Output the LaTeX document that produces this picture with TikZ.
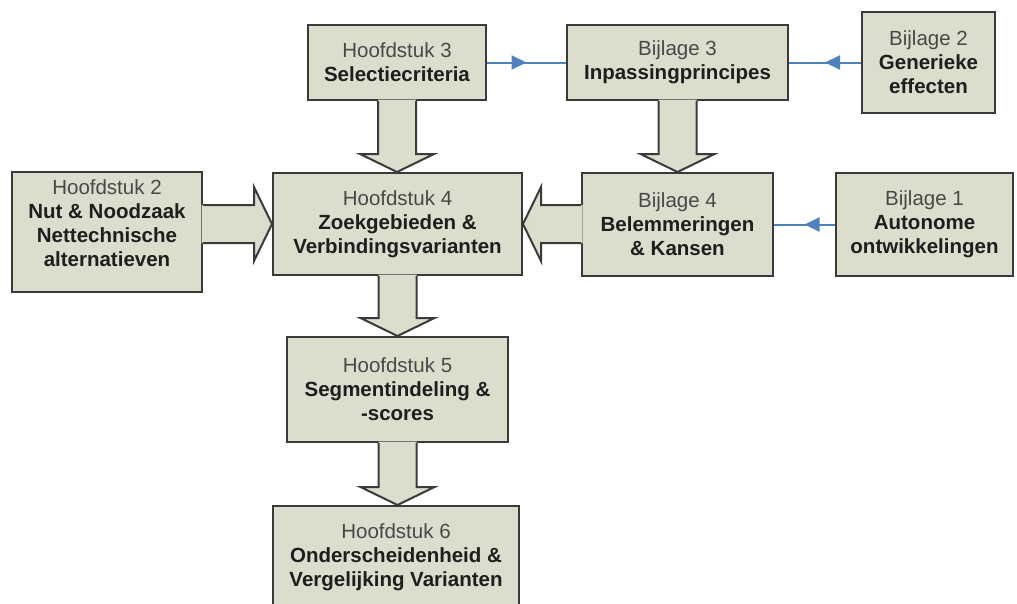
\documentclass[tikz,border=0pt]{standalone}
\usepackage{fontspec}
\setmainfont{Liberation Sans}
\usepackage{xcolor}
\usetikzlibrary{calc,arrows.meta,decorations.markings}

\definecolor{vakgrijs}{RGB}{221,221,205}
\definecolor{randgrijs}{RGB}{58,58,58}
\definecolor{kopgrijs}{RGB}{72,72,72}
\definecolor{tekst}{RGB}{30,30,30}
\definecolor{blauw}{RGB}{79,129,189}

\newcommand{\kop}[1]{\textcolor{kopgrijs}{#1}}

% dikke pijl van onderkant #1 naar bovenkant #2
\newcommand{\dikpijlomlaag}[2]{%
  \fill[vakgrijs] let \p1=(#1.south), \p2=(#2.north) in
    ({\x1-19pt},{\y1+1.5pt}) -- ({\x1-19pt},{\y2+18pt}) -- ({\x1-37pt},{\y2+18pt})
    -- (\x1,\y2) -- ({\x1+37pt},{\y2+18pt}) -- ({\x1+19pt},{\y2+18pt})
    -- ({\x1+19pt},{\y1+1.5pt}) -- cycle;
  \draw[randgrijs,line width=2pt] let \p1=(#1.south), \p2=(#2.north) in
    ({\x1-19pt},\y1) -- ({\x1-19pt},{\y2+18pt}) -- ({\x1-37pt},{\y2+18pt})
    -- (\x1,\y2) -- ({\x1+37pt},{\y2+18pt}) -- ({\x1+19pt},{\y2+18pt})
    -- ({\x1+19pt},\y1);
}
% dikke pijl opzij, #3 = 1 (naar rechts) of -1 (naar links)
\newcommand{\dikpijlopzij}[3]{%
  \fill[vakgrijs] let \p1=(#1), \p2=(#2) in
    ({\x1-(#3)*1.5pt},{\y2+19pt}) -- ({\x2-(#3)*18pt},{\y2+19pt}) -- ({\x2-(#3)*18pt},{\y2+37pt})
    -- (\x2,\y2) -- ({\x2-(#3)*18pt},{\y2-37pt}) -- ({\x2-(#3)*18pt},{\y2-19pt})
    -- ({\x1-(#3)*1.5pt},{\y2-19pt}) -- cycle;
  \draw[randgrijs,line width=2pt] let \p1=(#1), \p2=(#2) in
    (\x1,{\y2+19pt}) -- ({\x2-(#3)*18pt},{\y2+19pt}) -- ({\x2-(#3)*18pt},{\y2+37pt})
    -- (\x2,\y2) -- ({\x2-(#3)*18pt},{\y2-37pt}) -- ({\x2-(#3)*18pt},{\y2-19pt})
    -- (\x1,{\y2-19pt});
}

\begin{document}
\begin{tikzpicture}[x=1pt,y=-1pt,
    vak/.style={draw=randgrijs,line width=2pt,fill=vakgrijs,text=tekst,align=center,
      font=\fontsize{20.5}{24}\selectfont,inner sep=0pt},
    lijn/.style={draw=blauw,line width=2pt,postaction={decorate},
      decoration={markings,mark=at position 0.5 with {\arrow{Triangle[length=15pt,width=14pt]}}}}]
\useasboundingbox (0,0) rectangle (1017,603);
\path
    (397,62.5) node [vak,minimum width=178pt,minimum height=75pt] (h3)
        {\kop{Hoofdstuk 3}\\\textbf{Selectiecriteria}}
    (677.5,62.5) node [vak,minimum width=221pt,minimum height=75pt] (b3)
        {\kop{Bijlage 3}\\\textbf{Inpassingprincipes}}
    (928.5,62.5) node [vak,minimum width=133pt,minimum height=101pt] (b2)
        {\kop{Bijlage 2}\\\textbf{Generieke}\\\textbf{effecten}}
    (107,232) node [vak,minimum width=190pt,minimum height=120pt,text depth=17pt] (h2)
        {\kop{Hoofdstuk 2}\\\textbf{Nut \& Noodzaak}\\\textbf{Nettechnische}\\\textbf{alternatieven}}
    (397.5,224) node [vak,minimum width=249pt,minimum height=102pt] (h4)
        {\kop{Hoofdstuk 4}\\\textbf{Zoekgebieden \&}\\\textbf{Verbindingsvarianten}}
    (677.5,224.5) node [vak,minimum width=191pt,minimum height=103pt] (b4)
        {\kop{Bijlage 4}\\\textbf{Belemmeringen}\\\textbf{\& Kansen}}
    (924.5,224.5) node [vak,minimum width=177pt,minimum height=103pt] (b1)
        {\kop{Bijlage 1}\\\textbf{Autonome}\\\textbf{ontwikkelingen}}
    (397.5,389.5) node [vak,minimum width=221pt,minimum height=105pt] (h5)
        {\kop{Hoofdstuk 5}\\\textbf{Segmentindeling \&}\\\textbf{-scores}}
    (396,557) node [vak,minimum width=246pt,minimum height=102pt] (h6)
        {\kop{Hoofdstuk 6}\\\textbf{Onderscheidenheid \&}\\\textbf{Vergelijking Varianten}};
% dunne blauwe verbindingen
\draw[lijn] (h3.east) -- (b3.west);
\draw[lijn] (b2.west) -- (b3.east);
\draw[lijn] (b1.west) -- (b4.east);
% dikke pijlen
\dikpijlomlaag{h3}{h4}
\dikpijlomlaag{b3}{b4}
\dikpijlomlaag{h4}{h5}
\dikpijlomlaag{h5}{h6}
\dikpijlopzij{h2.east}{h4.west}{1}
\dikpijlopzij{b4.west}{h4.east}{-1}
\end{tikzpicture}
\end{document}
